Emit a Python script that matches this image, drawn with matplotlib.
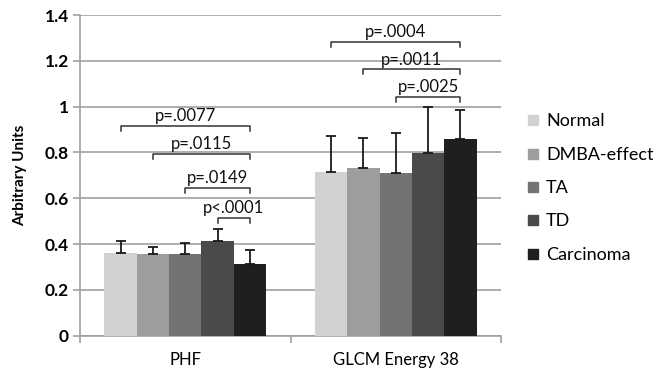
import numpy as np
import matplotlib
matplotlib.use('Agg')
from matplotlib import pyplot as plt
from matplotlib.lines import Line2D
from matplotlib.ticker import FormatStrFormatter, FixedLocator

plt.rcParams['font.family'] = ['Lato', 'DejaVu Sans']

categories = ['PHF', 'GLCM Energy 38']
groups = ['Normal', 'DMBA-effect', 'TA', 'TD', 'Carcinoma']
colors = ['#d2d2d2', '#9d9d9d', '#737373', '#4a4a4a', '#1f1f1f']

# mean values per group, one entry per category
means = {
    'Normal':      [0.362, 0.716],
    'DMBA-effect': [0.357, 0.731],
    'TA':          [0.357, 0.709],
    'TD':          [0.415, 0.796],
    'Carcinoma':   [0.312, 0.859],
}
# top of the error bar
err_top = {
    'Normal':      [0.415, 0.873],
    'DMBA-effect': [0.389, 0.863],
    'TA':          [0.406, 0.886],
    'TD':          [0.465, 1.000],
    'Carcinoma':   [0.374, 0.986],
}

# significance brackets: (category, from group, to group, height, label)
brackets = [
    (0, 0, 4, 0.916, 'p=.0077'),
    (0, 1, 4, 0.792, 'p=.0115'),
    (0, 2, 4, 0.646, 'p=.0149'),
    (0, 3, 4, 0.513, 'p<.0001'),
    (1, 0, 4, 1.284, 'p=.0004'),
    (1, 1, 4, 1.163, 'p=.0011'),
    (1, 2, 4, 1.041, 'p=.0025'),
]

fig = plt.figure(figsize=(6.59, 3.69), dpi=100)
ax = fig.add_axes([0.1214, 0.0902, 0.6389, 0.869])

x = np.arange(len(categories))
w = 0.1536
grey = '#a0a0a0'

for i, g in enumerate(groups):
    pos = x + (i - 2) * w
    m = np.array(means[g])
    up = np.array(err_top[g]) - m
    ax.bar(pos, m, w, color=colors[i], zorder=3)
    ax.errorbar(pos, m, yerr=[np.zeros_like(up), up], fmt='none',
                ecolor='#1a1a1a', elinewidth=1.3, capsize=3.5, capthick=1.3, zorder=4)

# brackets
for c, a, b, y, lab in brackets:
    x1 = x[c] + (a - 2) * w
    x2 = x[c] + (b - 2) * w
    d = 0.022
    ax.plot([x1, x1, x2, x2], [y - d, y, y, y - d], color='#333333', lw=1.1, zorder=5)
    ax.text((x1 + x2) / 2, y + 0.008, lab, ha='center', va='bottom',
            fontsize=12, color='#111111', zorder=6)

ax.set_xlim(-0.5, 1.5)
ax.set_ylim(0, 1.4)
ax.yaxis.set_major_locator(FixedLocator(np.arange(0, 1.41, 0.2)))
ax.yaxis.set_major_formatter(FormatStrFormatter('%g'))
ax.grid(axis='y', color=grey, lw=1.2, zorder=0)
ax.set_axisbelow(True)

ax.set_xticks(x)
ax.set_xticklabels(categories, fontsize=12)
ax.set_xticks([-0.5, 0.5, 1.5], minor=True)
ax.tick_params(axis='x', which='major', length=0, pad=12)
ax.tick_params(axis='x', which='minor', length=5, color=grey, width=1.2, direction='out')
ax.tick_params(axis='y', length=5, color=grey, width=1.2, labelsize=12.5, pad=3)
for t in ax.get_yticklabels():
    t.set_fontweight('bold')

for s in ['top', 'right']:
    ax.spines[s].set_visible(False)
for s in ['left', 'bottom']:
    ax.spines[s].set_color(grey)
    ax.spines[s].set_linewidth(1.2)

ax.set_ylabel('Arbitrary Units', fontsize=11, fontweight='bold', labelpad=13)

handles = [Line2D([], [], marker='s', ls='none', markersize=7,
                  markerfacecolor=colors[i], markeredgecolor=colors[i]) for i in range(5)]
fig.legend(handles, groups, loc='upper left', bbox_to_anchor=(0.785, 0.712),
           frameon=False, fontsize=13, labelspacing=0.96, handletextpad=0.3,
           handlelength=0.9, borderaxespad=0)

fig.savefig('out.png', dpi=100)
